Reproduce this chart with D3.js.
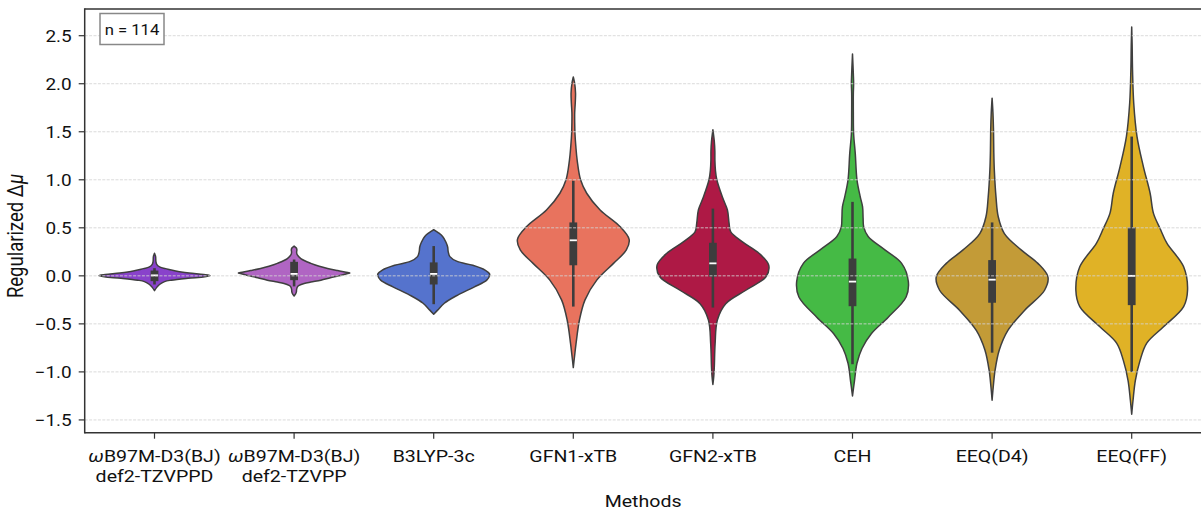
<!DOCTYPE html>
<html>
<head>
<meta charset="utf-8">
<script src="https://cdn.jsdelivr.net/npm/d3@7"></script>
<style>
  body { margin: 0; background: #ffffff; }
  svg text { font-family: Roboto, "DejaVu Sans", sans-serif; fill: #111111; }
</style>
</head>
<body>
<svg id="chart" width="1201" height="510"></svg>
<script>
// ---- data -------------------------------------------------------------
const methods = [
  "ωB97M-D3(BJ)\ndef2-TZVPPD",
  "ωB97M-D3(BJ)\ndef2-TZVPP",
  "B3LYP-3c",
  "GFN1-xTB",
  "GFN2-xTB",
  "CEH",
  "EEQ(D4)",
  "EEQ(FF)"
];
const baseColors = ["blueviolet", "mediumorchid", "royalblue", "tomato",
                    "#c7003b", "limegreen", "goldenrod", "#ffc107"];

// box statistics per method
const q1Values      = [-0.055, -0.045, -0.09, 0.11, -0.01, -0.316, -0.28, -0.305];
const medianValues  = [0.005, 0.02, 0.02, 0.37, 0.13, -0.06, -0.04, 0.0];
const q3Values      = [0.055, 0.146, 0.14, 0.556, 0.344, 0.18, 0.164, 0.504];
const whiskerLow    = [-0.09, -0.11, -0.295, -0.32, -0.33, -0.92, -0.80, -1.0];
const whiskerHigh   = [0.08, 0.17, 0.31, 0.99, 0.70, 0.77, 0.556, 1.45];

// kernel density profiles: [value, density relative to the violin's peak]
const densityWB97MTZVPPD = [[0.235,0],[0.2,0.02],[0.15,0.025],[0.12,0.04],[0.09,0.1],[0.075,0.2],[0.05,0.38],[0.03,0.62],[0.015,0.88],[0.003,1.0],[-0.01,0.9],[-0.025,0.6],[-0.045,0.3],[-0.06,0.18],[-0.09,0.09],[-0.12,0.04],[-0.155,0]];
const densityWB97MTZVPP = [[0.31,0],[0.29,0.04],[0.27,0.05],[0.245,0.045],[0.22,0.055],[0.18,0.12],[0.13,0.3],[0.1,0.45],[0.077,0.6],[0.055,0.78],[0.038,0.93],[0.03,1.0],[0.02,0.93],[0.0,0.8],[-0.02,0.65],[-0.045,0.48],[-0.065,0.3],[-0.08,0.18],[-0.1,0.09],[-0.115,0.06],[-0.14,0.045],[-0.17,0.04],[-0.19,0.025],[-0.21,0]];
const densityB3LYP = [[0.48,0],[0.45,0.08],[0.41,0.16],[0.35,0.22],[0.3,0.25],[0.25,0.26],[0.2,0.29],[0.15,0.42],[0.11,0.7],[0.06,0.92],[0.02,1.0],[0.0,1.0],[-0.045,0.95],[-0.115,0.73],[-0.2,0.43],[-0.285,0.19],[-0.357,0.07],[-0.4,0]];
const densityGFN1 = [[2.07,0],[2.0,0.025],[1.9,0.04],[1.8,0.035],[1.7,0.025],[1.6,0.025],[1.48,0.03],[1.35,0.045],[1.2,0.07],[1.0,0.13],[0.86,0.24],[0.685,0.48],[0.51,0.84],[0.38,1.0],[0.27,0.95],[0.13,0.72],[-0.045,0.42],[-0.25,0.21],[-0.46,0.11],[-0.7,0.05],[-0.85,0.02],[-0.955,0]];
const densityGFN2 = [[1.52,0],[1.4,0.025],[1.3,0.035],[1.2,0.036],[1.1,0.045],[1.0,0.07],[0.82,0.17],[0.685,0.26],[0.545,0.29],[0.458,0.32],[0.354,0.53],[0.233,0.83],[0.11,1.0],[-0.01,0.95],[-0.15,0.59],[-0.29,0.23],[-0.46,0.08],[-0.7,0.04],[-0.95,0.025],[-1.05,0.015],[-1.13,0]];
const densityCEH = [[2.31,0],[2.1,0.015],[2.0,0.02],[1.9,0.015],[1.7,0.015],[1.48,0.02],[1.27,0.05],[1.0,0.08],[0.82,0.14],[0.72,0.18],[0.6,0.19],[0.51,0.2],[0.41,0.28],[0.27,0.58],[0.13,0.88],[-0.06,1.0],[-0.22,0.96],[-0.43,0.64],[-0.6,0.34],[-0.756,0.17],[-0.91,0.08],[-1.09,0.036],[-1.25,0]];
const densityEEQD4 = [[1.85,0],[1.7,0.015],[1.52,0.025],[1.3,0.03],[1.1,0.04],[0.82,0.07],[0.615,0.11],[0.44,0.22],[0.27,0.52],[0.13,0.82],[-0.01,1.0],[-0.15,0.94],[-0.36,0.58],[-0.57,0.28],[-0.77,0.13],[-0.98,0.054],[-1.16,0.02],[-1.295,0]];
const densityEEQFF = [[2.59,0],[2.4,0.008],[2.14,0.015],[1.8,0.036],[1.45,0.095],[1.135,0.21],[0.86,0.33],[0.65,0.39],[0.49,0.51],[0.34,0.63],[0.094,0.93],[-0.15,1.0],[-0.32,0.93],[-0.53,0.57],[-0.7,0.27],[-0.88,0.15],[-1.09,0.065],[-1.295,0.024],[-1.44,0]];
const densities = [densityWB97MTZVPPD, densityWB97MTZVPP, densityB3LYP, densityGFN1,
                   densityGFN2, densityCEH, densityEEQD4, densityEEQFF];

const yTicks = [-1.5, -1.0, -0.5, 0.0, 0.5, 1.0, 1.5, 2.0, 2.5];
const yDomain = [-1.633, 2.778];
const sampleCount = 114;

// ---- layout -----------------------------------------------------------
const plot = { left: 84.7, right: 1201.5, top: 9, bottom: 432.7 };
const textStretch = 1.15;     // horizontal glyph scale used for all labels
const outline = "#3f3f3f";

const svg = d3.select("#chart");

const x = d3.scaleBand().domain(methods).range([plot.left, plot.right]).padding(0);
const y = d3.scaleLinear().domain(yDomain).range([plot.bottom, plot.top]);
const halfWidth = x.bandwidth() * 0.4;

// seaborn-style muted fill: reduce saturation to 75 %
function muted(c) {
  const h = d3.hsl(c);
  h.s *= 0.75;
  return h.formatHex();
}

function stretchedText(parent, px, py) {
  return parent.append("text")
    .attr("transform", `translate(${px},${py}) scale(${textStretch},1)`);
}

// ---- violins ----------------------------------------------------------
const violins = svg.append("g");
methods.forEach((m, i) => {
  const cx = x(m) + x.bandwidth() / 2;
  const area = d3.area()
    .curve(d3.curveCatmullRom.alpha(0.5))
    .y(d => y(d[0]))
    .x0(d => cx - d[1] * halfWidth)
    .x1(d => cx + d[1] * halfWidth);
  violins.append("path")
    .datum(densities[i])
    .attr("d", area)
    .attr("fill", muted(baseColors[i]))
    .attr("stroke", outline)
    .attr("stroke-width", 1.5)
    .attr("stroke-linejoin", "round");
});

// ---- inner boxes ------------------------------------------------------
const boxes = svg.append("g");
methods.forEach((m, i) => {
  const cx = x(m) + x.bandwidth() / 2;
  boxes.append("line")
    .attr("x1", cx).attr("x2", cx)
    .attr("y1", y(whiskerHigh[i])).attr("y2", y(whiskerLow[i]))
    .attr("stroke", "#3d3d3d").attr("stroke-width", 2.6);
  boxes.append("rect")
    .attr("x", cx - 3.9).attr("width", 7.8)
    .attr("y", y(q3Values[i]))
    .attr("height", y(q1Values[i]) - y(q3Values[i]))
    .attr("fill", "#3d3d3d");
  boxes.append("line")
    .attr("x1", cx - 3.6).attr("x2", cx + 3.6)
    .attr("y1", y(medianValues[i])).attr("y2", y(medianValues[i]))
    .attr("stroke", "#ffffff").attr("stroke-width", 1.8);
});

// ---- grid (drawn above the violins) ----------------------------------
svg.append("g").selectAll("line").data(yTicks).join("line")
  .attr("x1", plot.left).attr("x2", plot.right)
  .attr("y1", d => y(d)).attr("y2", d => y(d))
  .attr("stroke", "#d4d4d4").attr("stroke-opacity", 0.85)
  .attr("stroke-width", 1).attr("stroke-dasharray", "3,1.4");

// ---- axes -------------------------------------------------------------
const axisColor = "#333333";
const spines = svg.append("g").attr("stroke", axisColor).attr("stroke-width", 1.5);
spines.append("line").attr("x1", plot.left).attr("x2", plot.left).attr("y1", plot.top - 0.75).attr("y2", plot.bottom + 0.75);
spines.append("line").attr("x1", plot.left).attr("x2", 1201).attr("y1", plot.top).attr("y2", plot.top);
spines.append("line").attr("x1", plot.left).attr("x2", 1201).attr("y1", plot.bottom).attr("y2", plot.bottom);

const fmt = d3.format(".1f");
const yAxisG = svg.append("g");
yTicks.forEach(t => {
  yAxisG.append("line")
    .attr("x1", plot.left - 6).attr("x2", plot.left)
    .attr("y1", y(t)).attr("y2", y(t))
    .attr("stroke", axisColor).attr("stroke-width", 1.2);
  stretchedText(yAxisG, plot.left - 13, y(t))
    .attr("text-anchor", "end")
    .attr("dy", "0.36em")
    .style("font-size", "16.5px")
    .text(fmt(t).replace("-", "\u2212"));
});

const xAxisG = svg.append("g");
methods.forEach(m => {
  const cx = x(m) + x.bandwidth() / 2;
  xAxisG.append("line")
    .attr("x1", cx).attr("x2", cx)
    .attr("y1", plot.bottom).attr("y2", plot.bottom + 6)
    .attr("stroke", axisColor).attr("stroke-width", 1.2);
  m.split("\n").forEach((line, k) => {
    const t = stretchedText(xAxisG, cx, 461.7 + k * 20.6)
      .attr("text-anchor", "middle")
      .style("font-size", "17px");
    if (line.startsWith("ω")) {
      t.append("tspan").style("font-style", "italic").text("ω");
      t.append("tspan").text(line.slice(1));
    } else {
      t.text(line);
    }
  });
});

// axis titles
stretchedText(svg, (plot.left + plot.right) / 2, 507)
  .attr("text-anchor", "middle")
  .style("font-size", "17px")
  .text("Methods");

const yLabel = svg.append("text")
  .attr("transform", `translate(23,236) scale(${textStretch},1) rotate(-90)`)
  .attr("text-anchor", "middle")
  .style("font-size", "18.5px");
yLabel.append("tspan").text("Regularized \u0394");
yLabel.append("tspan").style("font-style", "italic").text("\u03bc");

// ---- sample-size annotation ------------------------------------------
const note = svg.append("g");
note.append("rect")
  .attr("x", 100).attr("y", 13.5).attr("width", 64).attr("height", 31)
  .attr("fill", "#ffffff").attr("stroke", "#888888").attr("stroke-width", 1.5);
stretchedText(note, 132, 34.5)
  .attr("text-anchor", "middle")
  .style("font-size", "14.5px")
  .text(`n = ${sampleCount}`);
</script>
</body>
</html>
